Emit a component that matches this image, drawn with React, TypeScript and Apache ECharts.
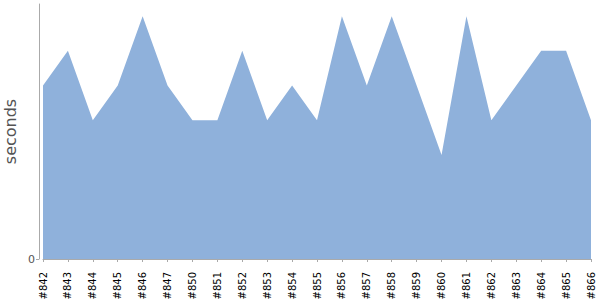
import React, { useEffect, useRef } from "react";
import * as echarts from "echarts";

const builds = ["#842", "#843", "#844", "#845", "#846", "#847", "#850", "#851", "#852", "#853", "#854", "#855", "#856", "#857", "#858", "#859", "#860", "#861", "#862", "#863", "#864", "#865", "#866"];
const seconds = [5, 6, 4, 5, 7, 5, 4, 4, 6, 4, 5, 4, 7, 5, 7, 5, 3, 7, 4, 5, 6, 6, 4];
const yTickValues = [0];

export default function App() {
  const ref = useRef<HTMLDivElement>(null);
  useEffect(() => {
    if (!ref.current) return;
    const chart = echarts.init(ref.current, null, { renderer: "svg" });
    const maxVal = Math.max(...seconds) * 1.05;
    chart.setOption({
      animation: false,
      textStyle: { fontFamily: "DejaVu Sans" },
      grid: { left: 43, right: 9, top: 4, bottom: 41, containLabel: false, outerBoundsMode: "none" },
      xAxis: {
        type: "category",
        data: builds,
        boundaryGap: false,
        offset: 5,
        axisLine: { lineStyle: { color: "#aaaaaa", width: 1 } },
        axisTick: { show: true, length: 3, alignWithLabel: true, lineStyle: { color: "#aaaaaa" } },
        axisLabel: { rotate: 90, interval: 0, fontSize: 10, color: "#000", margin: 8, fontFamily: "DejaVu Sans" },
        splitLine: { show: false },
      },
      yAxis: {
        type: "value",
        min: 0,
        max: maxVal,
        offset: 4,
        name: "seconds",
        nameLocation: "middle",
        nameRotate: 90,
        nameGap: 21,
        nameMoveOverlap: false,
        nameTextStyle: { fontSize: 16, color: "#545454", fontFamily: "DejaVu Sans" },
        axisLine: { show: true, lineStyle: { color: "#aaaaaa", width: 1 } },
        axisTick: { show: true, length: 3, customValues: yTickValues, lineStyle: { color: "#aaaaaa" } },
        axisLabel: { customValues: yTickValues, fontSize: 11, color: "#545454", margin: 4, fontFamily: "DejaVu Sans" },
        splitLine: { show: false },
      },
      series: [
        {
          type: "line",
          data: seconds,
          symbol: "none",
          lineStyle: { width: 0, color: "#8fb1db" },
          itemStyle: { color: "#8fb1db" },
          areaStyle: { color: "#8fb1db", opacity: 1 },
        },
      ],
    });
    return () => chart.dispose();
  }, []);
  return <div ref={ref} style={{ width: 600, height: 300, position: "absolute", left: 0, top: 0 }} />;
}
